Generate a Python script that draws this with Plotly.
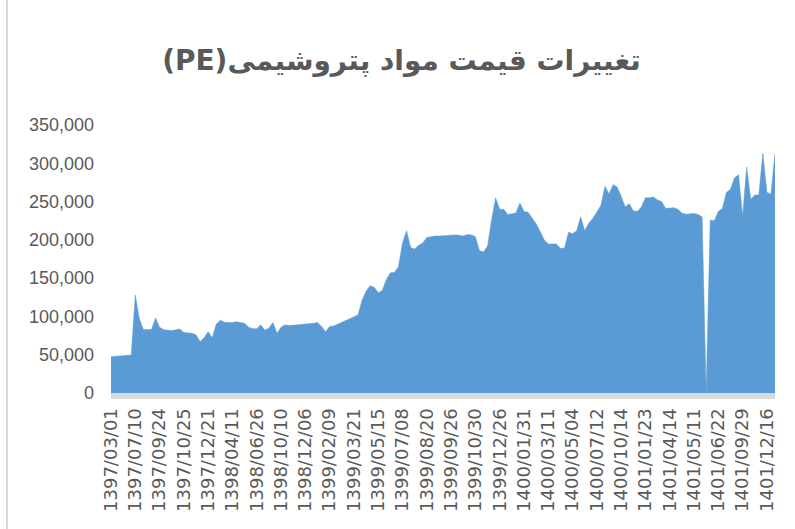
import plotly.graph_objects as go

title_text = "\u202bتغییرات قیمت مواد پتروشیمی(PE)\u202c"

tick_labels = [
    "1397/03/01", "1397/07/10", "1397/09/24", "1397/10/25", "1397/12/21",
    "1398/04/11", "1398/06/26", "1398/10/10", "1398/12/06", "1399/02/09",
    "1399/03/21", "1399/05/15", "1399/07/08", "1399/08/20", "1399/09/26",
    "1399/10/30", "1399/12/26", "1400/01/31", "1400/03/11", "1400/05/04",
    "1400/07/12", "1400/10/14", "1401/01/23", "1401/04/14", "1401/05/11",
    "1401/06/22", "1401/09/29", "1401/12/16",
]
points_per_label = 6

# price values (thousands of units)
price_k = [
    47.5, 48, 48.5, 49, 49.5, 49.5, 128, 97, 83, 83,
    83, 98, 86, 82.5, 82, 81.5, 82.5, 83.5, 79, 78.5,
    78, 76, 67, 72, 80, 72, 90, 95, 92.5, 92,
    92, 93, 92, 91, 86, 84, 84, 89, 82, 85,
    92, 78, 86, 89, 88, 88.5, 89, 89, 89.5, 90,
    91, 92, 87, 80, 87, 87.5, 90, 92, 94.5, 98,
    100.5, 102, 121, 133, 140, 138, 131, 134, 148, 157,
    157.5, 165, 196, 212, 190, 188, 193, 196, 203, 204.5,
    205, 205, 205.5, 206, 206, 206.5, 206, 205, 207, 206.5,
    204, 186, 184, 192, 226, 255, 240, 240, 233, 234,
    235, 248, 237, 236, 229, 221, 211, 200, 194.6, 194.6,
    194.6, 189, 189, 210, 208, 212, 230, 212, 221.6, 228,
    236, 245, 270, 260, 272, 269, 257, 243, 247, 238,
    237, 243, 255, 255, 256, 252, 250, 241, 241.5, 242,
    240, 235, 233.5, 234, 234.5, 233, 230, 0, 226, 225,
    237, 241, 262, 266, 281, 285, 231, 295, 253, 258.6,
    258.6, 313, 262, 260, 313,
]
prices = [v * 1000 for v in price_k]
idx = list(range(len(prices)))

y_ticks = [0, 50000, 100000, 150000, 200000, 250000, 300000, 350000]

text_color = "#595959"

fig = go.Figure()
fig.add_trace(go.Scatter(
    x=idx, y=prices, mode="lines", fill="tozeroy",
    fillcolor="#5b9bd5", line=dict(color="#5b9bd5", width=0.5),
    hoverinfo="y", showlegend=False,
))

fig.update_layout(
    width=795, height=529,
    margin=dict(l=111, r=20, t=125, b=136),
    paper_bgcolor="white", plot_bgcolor="white",
    title=dict(
        text=title_text, x=0.505, xanchor="center", y=1 - 60 / 529, yanchor="middle",
        font=dict(family="DejaVu Sans", size=28, color=text_color, weight="bold"),
    ),
    xaxis=dict(
        range=[0, len(prices) - 1],
        tickvals=[i * points_per_label for i in range(len(tick_labels))],
        ticktext=tick_labels,
        tickangle=-90,
        showgrid=False, zeroline=False,
        showline=True, linecolor="#d9d9d9", linewidth=6,
        ticks="", ticklabelstandoff=2,
        tickfont=dict(family="DejaVu Sans", size=18, color=text_color),
    ),
    yaxis=dict(
        range=[0, 350000],
        tickvals=y_ticks, tickformat=",",
        showgrid=False, zeroline=False, showline=False,
        ticks="", ticklabelstandoff=16,
        tickfont=dict(family="Liberation Sans", size=18, color=text_color),
    ),
    shapes=[dict(type="line", xref="paper", yref="paper",
                 x0=-104 / 664, x1=-104 / 664, y0=-1, y1=2,
                 line=dict(color="#d9d9d9", width=2))],
)

fig.write_html("out.html", config={"displayModeBar": False},
               post_script="document.body.style.margin='0';document.body.style.padding='0';")
